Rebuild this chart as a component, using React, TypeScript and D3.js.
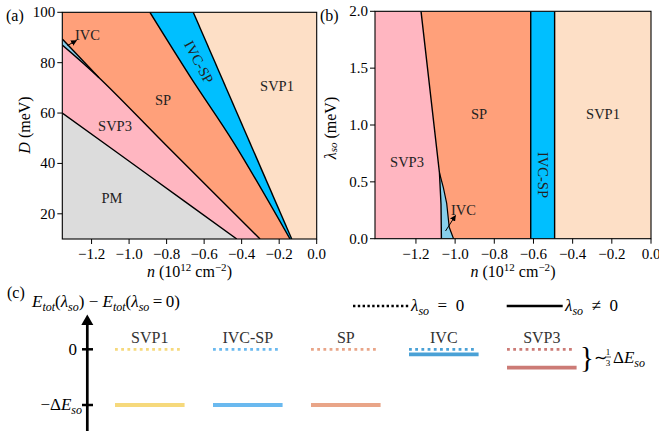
import React from "react";
import * as d3 from "d3";

const FONT = "Liberation Serif";

// ---------- Panel (a) data: boundaries in (n, D) ----------
const nMinA = -1.356;
const xTicksA = [-1.2, -1.0, -0.8, -0.6, -0.4, -0.2, 0.0];
const yTicksA = [20, 40, 60, 80, 100];
const pmN = [-1.356, -0.9, -0.426];
const pmD = [60, 35.5, 10];
const svp3N = [-1.356, -1.16, -0.8, -0.302];
const svp3D = [87, 74, 47, 10];
const ivcUpN = [-1.356, -1.16];
const ivcUpD = [89.4, 74];
const spN = [-0.889, -0.67, -0.44, -0.142];
const spD = [100, 74, 48, 10];
const ivcspN = [-0.658, -0.133];
const ivcspD = [100, 10];

// ---------- Panel (b) data: boundaries in (n, lambda) ----------
const nMinB = -1.409;
const xTicksB = [-1.2, -1.0, -0.8, -0.6, -0.4, -0.2, 0.0];
const yTicksB = [0, 0.5, 1.0, 1.5, 2.0];
const svp3BN = [-1.174, -1.08, -1.072, -1.07];
const svp3BL = [2.0, 0.58, 0.3, 0.0];
const ivcBN = [-1.08, -1.06, -1.043, -1.03, -1.008];
const ivcBL = [0.58, 0.45, 0.31, 0.1, 0.0];
const spIvcspB = -0.614;
const ivcspSvp1B = -0.492;

// ---------- Panel (c) data ----------
const phases = ["SVP1", "IVC-SP", "SP", "IVC", "SVP3"];
const shiftLambda = [-1, -1, -1, -0.09, -0.33];
const phaseColors = ["#f6d97c", "#6ab9ef", "#e9a588", "#4aa1d6", "#cc7b76"];

const C = {
  SVP1: "#fddfc6",
  SP: "#ffa07a",
  IVCSP: "#00bfff",
  SVP3: "#ffb6c1",
  PM: "#dcdcdc",
  IVC: "#87ceeb",
};

type P = [number, number];
const zip = (a: number[], b: number[]): P[] => a.map((v, i) => [v, b[i]]);

function Axes({ xs, ys, xTicks, yTicks, yFmt, clipId, children }: any) {
  const [x0, x1] = xs.range();
  const [y0, y1] = ys.range();
  const fx = d3.format(".1f");
  return (
    <g>
      <defs>
        <clipPath id={clipId}>
          <rect x={x0} y={y1} width={x1 - x0} height={y0 - y1} />
        </clipPath>
      </defs>
      <g clipPath={`url(#${clipId})`}>{children}</g>
      <rect x={x0} y={y1} width={x1 - x0} height={y0 - y1} fill="none" stroke="#000" strokeWidth={1.1} />
      {xTicks.map((t: number) => (
        <g key={"x" + t}>
          <line x1={xs(t)} x2={xs(t)} y1={y0} y2={y0 + 5} stroke="#000" strokeWidth={1} />
          <text x={xs(t)} y={y0 + 20} textAnchor="middle" fontSize={15}>
            {fx(t)}
          </text>
        </g>
      ))}
      {yTicks.map((t: number) => (
        <g key={"y" + t}>
          <line x1={x0} x2={x0 - 5} y1={ys(t)} y2={ys(t)} stroke="#000" strokeWidth={1} />
          <text x={x0 - 7} y={ys(t) + 5} textAnchor="end" fontSize={15}>
            {yFmt(t)}
          </text>
        </g>
      ))}
      <text x={(x0 + x1) / 2} y={y0 + 38} textAnchor="middle" fontSize={16}>
        <tspan fontStyle="italic">n</tspan>
        <tspan> (10</tspan>
        <tspan dy={-6} fontSize={11}>12</tspan>
        <tspan dy={6}> cm</tspan>
        <tspan dy={-6} fontSize={11}>−2</tspan>
        <tspan dy={6}>)</tspan>
      </text>
    </g>
  );
}

export default function App() {
  // Panel (a)
  const xa = d3.scaleLinear().domain([nMinA, 0]).range([62.3, 316.7]);
  const ya = d3.scaleLinear().domain([10, 100]).range([239, 12.3]);
  const lineA = d3.line<P>().x((p) => xa(p[0])).y((p) => ya(p[1])).curve(d3.curveCatmullRom);
  const polyA = (pts: P[]) => d3.line<P>().x((p) => xa(p[0])).y((p) => ya(p[1]))(pts) + "Z";
  const polyCurveA = (curvePts: P[], rest: P[]) => {
    const a = lineA(curvePts) || "";
    const b = rest.map((p) => `L${xa(p[0])},${ya(p[1])}`).join("");
    return a + b + "Z";
  };

  const pmPts = zip(pmN, pmD);
  const svp3Pts = zip(svp3N, svp3D);
  const ivcUpPts = zip(ivcUpN, ivcUpD);
  const spPts = zip(spN, spD);
  const ivcspPts = zip(ivcspN, ivcspD);

  // Panel (b)
  const xb = d3.scaleLinear().domain([nMinB, 0]).range([375, 651]);
  const yb = d3.scaleLinear().domain([0, 2]).range([238.7, 11.3]);
  const lineB = d3.line<P>().x((p) => xb(p[0])).y((p) => yb(p[1]));
  const polyB = (pts: P[]) => lineB(pts) + "Z";
  const svp3BPts = zip(svp3BN, svp3BL);
  const ivcBPts = zip(ivcBN, ivcBL);

  // Panel (c)
  const band = d3.scaleBand<string>().domain(phases).range([115, 576.6]).paddingInner(0.29);
  const ye = d3.scaleLinear().domain([-1, 0]).range([405, 349.3]);

  const sub = (s: string, fs = 12) => (
    <tspan fontStyle="italic" fontSize={fs} dy={4}>
      {s}
    </tspan>
  );

  return (
    <div style={{ position: "fixed", left: 0, top: 0 }}>
      <svg width={659} height={431} style={{ display: "block", background: "#fff", fontFamily: FONT }}>
        <defs>
          <marker id="ah" viewBox="0 0 10 10" refX={9} refY={5} markerWidth={6} markerHeight={6} orient="auto">
            <path d="M0,0 L10,5 L0,10 Z" fill="#000" />
          </marker>
        </defs>

        {/* Panel (a) */}
        <Axes xs={xa} ys={ya} xTicks={xTicksA} yTicks={yTicksA} yFmt={(t: number) => String(t)} clipId="ca">
          <rect x={62.3} y={12.3} width={254.4} height={226.7} fill={C.SVP1} />
          <path d={polyCurveA(ivcspPts, [[nMinA, 10], [nMinA, 100]])} fill={C.IVCSP} />
          <path d={polyCurveA(spPts, [[nMinA, 10], [nMinA, 100]])} fill={C.SP} />
          <path d={polyA([...ivcUpPts, [-0.302, 10], [nMinA, 10]])} fill={C.IVC} />
          <path d={polyCurveA(svp3Pts, [[nMinA, 10]])} fill={C.SVP3} />
          <path d={polyCurveA(pmPts, [[nMinA, 10]])} fill={C.PM} />
          {[pmPts, svp3Pts, ivcUpPts, spPts, ivcspPts].map((pts, i) => (
            <path key={i} d={lineA(pts) || ""} fill="none" stroke="#000" strokeWidth={1.4} />
          ))}
        </Axes>
        <text x={6} y={21} fontSize={16}>(a)</text>
        <text x={24} y={125} fontSize={16} textAnchor="middle" transform="rotate(-90 24 125)" dominantBaseline="central">
          <tspan fontStyle="italic">D</tspan> (meV)
        </text>
        <g fontSize={14.5} fill="#222" textAnchor="middle">
          <text x={277} y={91}>SVP1</text>
          <text x={163} y={105}>SP</text>
          <text x={115} y={131}>SVP3</text>
          <text x={112} y={203}>PM</text>
          <text x={199} y={62} transform="rotate(62 199 62)" dominantBaseline="central">IVC-SP</text>
          <text x={75} y={40} textAnchor="start">IVC</text>
        </g>
        <line x1={67.5} y1={45.5} x2={76.5} y2={40.5} stroke="#000" strokeWidth={1} markerEnd="url(#ah)" />

        {/* Panel (b) */}
        <Axes xs={xb} ys={yb} xTicks={xTicksB} yTicks={yTicksB} yFmt={d3.format(".1f")} clipId="cb">
          <rect x={375} y={11.3} width={276} height={227.4} fill={C.SVP1} />
          <rect x={375} y={11.3} width={xb(ivcspSvp1B) - 375} height={227.4} fill={C.IVCSP} />
          <rect x={375} y={11.3} width={xb(spIvcspB) - 375} height={227.4} fill={C.SP} />
          <path d={polyB([...svp3BPts.slice(0, 2), ...ivcBPts.slice(1), [nMinB, 0], [nMinB, 2]])} fill={C.IVC} />
          <path d={polyB([...svp3BPts, [nMinB, 0], [nMinB, 2]])} fill={C.SVP3} />
          <path d={lineB(svp3BPts) || ""} fill="none" stroke="#000" strokeWidth={1.4} />
          <path d={lineB(ivcBPts) || ""} fill="none" stroke="#000" strokeWidth={1.2} />
          {[spIvcspB, ivcspSvp1B].map((v) => (
            <line key={v} x1={xb(v)} x2={xb(v)} y1={11.3} y2={238.7} stroke="#000" strokeWidth={1.4} />
          ))}
        </Axes>
        <text x={320} y={21} fontSize={16}>(b)</text>
        <text x={330} y={128} fontSize={16} textAnchor="middle" transform="rotate(-90 330 128)" dominantBaseline="central">
          <tspan fontStyle="italic">λ</tspan>
          <tspan fontStyle="italic" fontSize={11} dy={3}>so</tspan>
          <tspan dy={-3}> (meV)</tspan>
        </text>
        <g fontSize={14.5} fill="#222" textAnchor="middle">
          <text x={479} y={119}>SP</text>
          <text x={603} y={119}>SVP1</text>
          <text x={407} y={167}>SVP3</text>
          <text x={543} y={175} transform="rotate(90 543 175)" dominantBaseline="central">IVC-SP</text>
          <text x={451} y={215} textAnchor="start">IVC</text>
        </g>
        <line x1={445.5} y1={231} x2={455.5} y2={215.5} stroke="#000" strokeWidth={1} markerEnd="url(#ah)" />

        {/* Panel (c) */}
        <text x={7} y={298} fontSize={16}>(c)</text>
        <text x={32} y={307} fontSize={17}>
          <tspan fontStyle="italic">E</tspan>
          {sub("tot")}
          <tspan dy={-4}>(</tspan>
          <tspan fontStyle="italic">λ</tspan>
          {sub("so")}
          <tspan dy={-4}>) − </tspan>
          <tspan fontStyle="italic">E</tspan>
          {sub("tot")}
          <tspan dy={-4}>(</tspan>
          <tspan fontStyle="italic">λ</tspan>
          {sub("so")}
          <tspan dy={-4}>{"\u2009=\u20090)"}</tspan>
        </text>
        {/* energy axis */}
        <line x1={87.3} x2={87.3} y1={431} y2={323} stroke="#000" strokeWidth={2.7} />
        <path d="M87.3,314.5 L93.3,325 L81.3,325 Z" fill="#000" />
        {[0, -1].map((v) => (
          <line key={v} x1={82} x2={93} y1={ye(v)} y2={ye(v)} stroke="#000" strokeWidth={2.5} />
        ))}
        <text x={77} y={ye(0) + 6} textAnchor="end" fontSize={17}>0</text>
        <text x={82} y={ye(-1) + 5} textAnchor="end" fontSize={17}>
          −Δ<tspan fontStyle="italic">E</tspan>
          <tspan fontStyle="italic" fontSize={12} dy={4}>so</tspan>
        </text>
        {/* legend */}
        <line x1={353} x2={409} y1={306} y2={306} stroke="#000" strokeWidth={2.6} strokeDasharray="2.4,2.4" />
        <text x={411} y={311} fontSize={17}>
          <tspan fontStyle="italic">λ</tspan>
          <tspan fontStyle="italic" fontSize={12} dy={4}>so</tspan>
          <tspan dy={-4}>{"\u2002=\u20020"}</tspan>
        </text>
        <line x1={506.7} x2={562.7} y1={306} y2={306} stroke="#000" strokeWidth={2.6} />
        <text x={565} y={311} fontSize={17}>
          <tspan fontStyle="italic">λ</tspan>
          <tspan fontStyle="italic" fontSize={12} dy={4}>so</tspan>
          <tspan dy={-4}>{"\u2002≠\u20020"}</tspan>
        </text>
        {/* phase levels */}
        {phases.map((ph, i) => {
          const x0 = band(ph) as number;
          const w = band.bandwidth();
          return (
            <g key={ph}>
              <text x={x0 + w / 2} y={343} textAnchor="middle" fontSize={16} fill="#333">
                {ph}
              </text>
              <line x1={x0} x2={x0 + w - 2} y1={ye(0)} y2={ye(0)} stroke={phaseColors[i]} strokeWidth={2.8} strokeDasharray="2.8,3.4" />
              <line x1={x0} x2={x0 + w} y1={ye(shiftLambda[i])} y2={ye(shiftLambda[i])} stroke={phaseColors[i]} strokeWidth={3.8} />
            </g>
          );
        })}
        <text x={580} y={367} fontSize={29}>{"}"}</text>
        <text x={594} y={363} fontSize={16}>∼</text>
        <text x={608} y={354.5} fontSize={9} textAnchor="middle">1</text>
        <line x1={605} x2={611} y1={357} y2={357} stroke="#000" strokeWidth={0.7} />
        <text x={608} y={366} fontSize={9} textAnchor="middle">3</text>
        <text x={613} y={363} fontSize={17}>
          Δ<tspan fontStyle="italic">E</tspan>
          <tspan fontStyle="italic" fontSize={12} dy={4}>so</tspan>
        </text>
      </svg>
    </div>
  );
}
